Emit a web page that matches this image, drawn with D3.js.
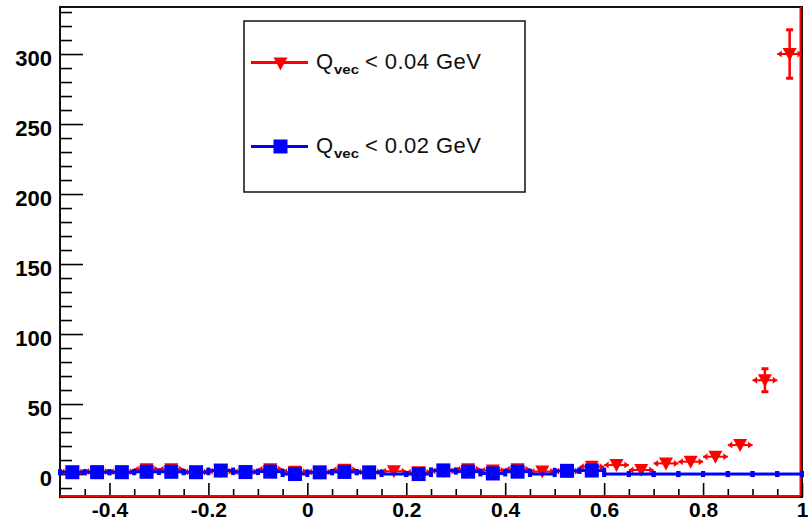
<!DOCTYPE html>
<html>
<head>
<meta charset="utf-8">
<script src="https://cdn.jsdelivr.net/npm/d3@7"></script>
<style>
  body { margin: 0; background: #fff; }
  svg { display: block; font-family: "Liberation Sans", Arial, sans-serif; }
</style>
</head>
<body>
<svg id="chart"></svg>
<script>
// bin centres (bin width 0.05)
const binCenters = [-0.475, -0.425, -0.375, -0.325, -0.275, -0.225, -0.175, -0.125, -0.075, -0.025,
  0.025, 0.075, 0.125, 0.175, 0.225, 0.275, 0.325, 0.375, 0.425, 0.475,
  0.525, 0.575, 0.625, 0.675, 0.725, 0.775, 0.825, 0.875, 0.925, 0.975];
const binHalfWidth = 0.025;

// Qvec < 0.04 GeV
const redValues = [1.5, 1.8, 1.6, 3.4, 3.4, 1.5, 2.0, 1.6, 3.4, 1.6,
  1.4, 3.0, 1.5, 2.0, 1.2, 2.2, 3.4, 2.5, 3.4, 1.8,
  2.0, 5.2, 6.4, 2.9, 7.6, 8.8, 12.4, 20.7, 67, 300];
const redErrors = [1.3, 1.4, 1.3, 1.9, 1.9, 1.3, 1.5, 1.3, 1.9, 1.3,
  1.2, 1.8, 1.3, 1.5, 1.2, 1.5, 1.9, 1.6, 1.9, 1.4,
  1.5, 2.3, 2.6, 1.8, 2.8, 3.0, 3.6, 4.6, 8.2, 17.3];

// Qvec < 0.02 GeV (null = empty bin)
const blueValues = [1.3, 1.3, 1.3, 1.6, 1.6, 1.3, 2.5, 1.4, 1.7, 0.0,
  1.2, 1.5, 1.2, null, 0.0, 2.6, 1.7, 0.4, 1.7, null,
  2.3, 2.5, null, null, null, null, null, null, null, null];

const xMajorTicks = [-0.4, -0.2, 0, 0.2, 0.4, 0.6, 0.8, 1];
const xMinorTicks = [-0.45, -0.35, -0.3, -0.25, -0.15, -0.1, -0.05, 0.05, 0.1, 0.15,
  0.25, 0.3, 0.35, 0.45, 0.5, 0.55, 0.65, 0.7, 0.75, 0.85, 0.9, 0.95];
const yMajorTicks = [0, 50, 100, 150, 200, 250, 300];
const yMinorTicks = [-10, 10, 20, 30, 40, 60, 70, 80, 90, 110, 120, 130, 140, 160, 170, 180, 190,
  210, 220, 230, 240, 260, 270, 280, 290, 310, 320, 330];

const legendLabels = ['0.04', '0.02'];

let svgWidth = 808, svgHeight = 522;
let plotLeft = 60, plotRight = 802, plotTop = 7, plotBottom = 497;

let svg = d3.select('#chart').attr('width', svgWidth).attr('height', svgHeight);

let x = d3.scaleLinear().domain([-0.5, 1]).range([plotLeft, plotRight]);
let y = d3.scaleLinear().domain([-16.4, 333.6]).range([plotBottom, plotTop]);

let fmt = d => String(+d.toFixed(2));

// frame
svg.append('rect').attr('x', plotLeft).attr('y', plotTop)
  .attr('width', plotRight - plotLeft).attr('height', plotBottom - plotTop)
  .attr('fill', 'none').attr('stroke', '#111').attr('stroke-width', 2);

// x axis
let gx = svg.append('g').attr('transform', `translate(0, ${plotBottom})`);
gx.call(d3.axisBottom(x).tickValues(xMajorTicks).tickSize(-14).tickPadding(6).tickFormat(fmt));
gx.append('g').call(d3.axisBottom(x).tickValues(xMinorTicks).tickSize(-8).tickFormat(''));
gx.selectAll('.domain').remove();
gx.selectAll('line').attr('stroke', '#000').attr('stroke-width', 1.6);
gx.selectAll('text').attr('fill', '#000').attr('font-size', 21).attr('font-weight', 'bold')
  .attr('font-family', '"Liberation Sans", Arial, sans-serif').attr('y', 20).attr('dy', 0);

// y axis
let gy = svg.append('g').attr('transform', `translate(${plotLeft}, 0)`);
gy.call(d3.axisLeft(y).tickValues(yMajorTicks).tickSize(-23).tickPadding(8).tickFormat(fmt));
gy.append('g').call(d3.axisLeft(y).tickValues(yMinorTicks).tickSize(-12).tickFormat(''));
gy.selectAll('.domain').remove();
gy.selectAll('line').attr('stroke', '#000').attr('stroke-width', 1.6);
gy.selectAll('text').attr('fill', '#000').attr('font-size', 22).attr('font-weight', 'bold')
  .attr('font-family', '"Liberation Sans", Arial, sans-serif').attr('dy', 11).attr('x', -8);

// red histogram outline along the bottom and right edge
svg.append('line').attr('x1', plotLeft).attr('x2', plotRight - 1.5).attr('y1', plotBottom - 1).attr('y2', plotBottom - 1)
  .attr('stroke', 'red').attr('stroke-width', 2);
svg.append('line').attr('x1', plotRight - 1.5).attr('x2', plotRight - 1.5).attr('y1', plotTop).attr('y2', plotBottom - 1)
  .attr('stroke', 'red').attr('stroke-width', 2);

// red points
let redData = binCenters.map((c, i) => ({c: c, v: redValues[i], e: redErrors[i]}));
let gRed = svg.append('g');
let triDown = 'M-7,-6L7,-6L0,7Z';

redData.forEach(d => {
  let cx = x(d.c), cy = y(d.v);
  let x0 = x(d.c - binHalfWidth), x1 = x(d.c + binHalfWidth);
  gRed.append('line').attr('x1', x0).attr('x2', x1).attr('y1', cy).attr('y2', cy)
    .attr('stroke', 'red').attr('stroke-width', 2);
  gRed.append('path').attr('d', `M${x0},${cy}L${x0 + 4.5},${cy - 3.5}L${x0 + 4.5},${cy + 3.5}Z`).attr('fill', 'red');
  gRed.append('path').attr('d', `M${x1},${cy}L${x1 - 4.5},${cy - 3.5}L${x1 - 4.5},${cy + 3.5}Z`).attr('fill', 'red');
  let yTop = y(d.v + d.e), yBot = y(d.v - d.e);
  if (yBot - cy > 7) {
    gRed.append('line').attr('x1', cx).attr('x2', cx).attr('y1', yTop).attr('y2', yBot)
      .attr('stroke', 'red').attr('stroke-width', 2.5);
    [yTop, yBot].forEach(yy => {
      gRed.append('line').attr('x1', cx - 3.5).attr('x2', cx + 3.5).attr('y1', yy).attr('y2', yy)
        .attr('stroke', 'red').attr('stroke-width', 3);
    });
  }
  gRed.append('path').attr('d', triDown).attr('transform', `translate(${cx}, ${cy})`).attr('fill', 'red');
});

// blue points
let blueData = binCenters.map((c, i) => ({c: c, v: blueValues[i]}));
let gBlue = svg.append('g');
blueData.forEach(d => {
  let cy = y(d.v === null ? 0 : d.v);
  let x0 = x(d.c - binHalfWidth), x1 = x(d.c + binHalfWidth);
  gBlue.append('line').attr('x1', x0).attr('x2', x1).attr('y1', cy).attr('y2', cy)
    .attr('stroke', 'blue').attr('stroke-width', 3);
  [x0, x1].forEach(xx => {
    gBlue.append('rect').attr('x', xx - 2).attr('y', cy - 3).attr('width', 4).attr('height', 6).attr('fill', 'blue');
  });
});
gBlue.selectAll('rect.marker').data(blueData.filter(d => d.v !== null)).enter().append('rect')
  .attr('class', 'marker')
  .attr('x', d => x(d.c) - 7).attr('y', d => y(d.v) - 7)
  .attr('width', 14).attr('height', 14).attr('fill', 'blue');

// legend
let lg = svg.append('g');
lg.append('rect').attr('x', 244).attr('y', 21).attr('width', 281).attr('height', 171)
  .attr('fill', '#fff').attr('stroke', '#111').attr('stroke-width', 1.5);

let entries = [
  {color: 'red', label: legendLabels[0], ly: 62.5, base: 69},
  {color: 'blue', label: legendLabels[1], ly: 146.5, base: 153}
];
entries.forEach((en, i) => {
  lg.append('line').attr('x1', 251).attr('x2', 308).attr('y1', en.ly).attr('y2', en.ly)
    .attr('stroke', en.color).attr('stroke-width', 3);
  if (i === 0) {
    lg.append('path').attr('d', triDown).attr('transform', `translate(280.5, ${en.ly + 1})`).attr('fill', 'red');
  } else {
    lg.append('rect').attr('x', 273.5).attr('y', en.ly - 7).attr('width', 14).attr('height', 14).attr('fill', 'blue');
  }
  lg.append('text').attr('x', 316).attr('y', en.base).attr('font-size', 22).attr('fill', '#111').text('Q');
  lg.append('text').attr('x', 334).attr('y', en.base + 4.5).attr('font-size', 13).attr('font-weight', 'bold')
    .attr('textLength', 25).attr('lengthAdjust', 'spacingAndGlyphs').attr('fill', '#111').text('vec');
  lg.append('text').attr('x', 365).attr('y', en.base).attr('font-size', 22).attr('fill', '#111')
    .attr('textLength', 116).attr('lengthAdjust', 'spacing').text(`< ${en.label} GeV`);
});
</script>
</body>
</html>
